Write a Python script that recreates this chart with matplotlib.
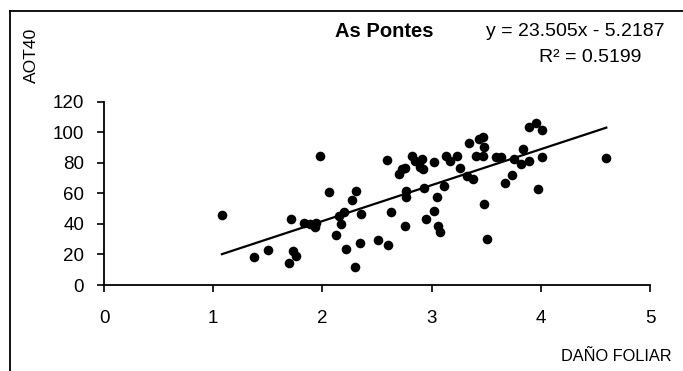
import matplotlib
matplotlib.use("Agg")
import matplotlib.pyplot as plt
from matplotlib.lines import Line2D
from matplotlib import font_manager
import numpy as np

plt.rcParams['font.family'] = ['Liberation Sans', 'DejaVu Sans']

# Foliar damage index vs AOT40 at As Pontes
dano_foliar = [1.08, 1.37, 1.50, 1.69, 1.71, 1.73, 1.76, 1.83, 1.89, 1.94,
               1.93, 1.98, 2.06, 2.12, 2.15, 2.17, 2.20, 2.22, 2.27, 2.31,
               2.30, 2.34, 2.35, 2.51, 2.60, 2.59, 2.63, 2.70, 2.73, 2.76,
               2.77, 2.77, 2.76, 2.82, 2.85, 2.89, 2.91, 2.92, 2.93, 2.95,
               3.02, 3.02, 3.05, 3.06, 3.08, 3.11, 3.13, 3.17, 3.23, 3.26,
               3.32, 3.38, 3.34, 3.43, 3.47, 3.48, 3.41, 3.47, 3.48, 3.51,
               3.59, 3.64, 3.67, 3.74, 3.75, 3.84, 3.82, 3.89, 3.89, 3.96,
               4.01, 4.01, 3.97, 4.60]
aot40 = [45.5, 18.1, 22.7, 14.7, 43.1, 22.4, 19.2, 40.8, 39.6, 40.5,
         38.1, 84.3, 61.1, 32.7, 45.3, 39.6, 47.9, 23.5, 55.9, 61.3,
         12.0, 27.4, 46.4, 29.2, 26.3, 81.8, 47.5, 72.5, 75.8, 76.7,
         61.3, 57.3, 38.4, 84.5, 81.2, 77.3, 82.4, 75.6, 63.2, 42.9,
         80.6, 48.6, 57.3, 38.8, 34.6, 64.5, 84.5, 81.2, 84.5, 76.4,
         71.4, 69.0, 92.8, 95.2, 96.5, 90.0, 84.1, 84.1, 52.9, 30.1,
         84.0, 83.5, 66.5, 71.9, 82.4, 88.9, 79.1, 81.2, 103.0, 105.7,
         101.5, 83.5, 62.7, 83.0]

# Linear trend reported on the chart
slope = 23.505
intercept = -5.2187
r2 = 0.5199

x_ticks = [0, 1, 2, 3, 4, 5]
y_ticks = [0, 20, 40, 60, 80, 100, 120]

# Axis titles use a narrow face when one is installed
installed = {f.name for f in font_manager.fontManager.ttflist}
if 'Liberation Sans Narrow' in installed:
    axis_family = ['Liberation Sans Narrow', 'Liberation Sans']
    axis_size = 13.5
    yaxis_size = 14
else:
    axis_family = ['Liberation Sans', 'DejaVu Sans']
    axis_size = 11.8
    yaxis_size = 12.6

fig = plt.figure(figsize=(6.83, 3.71), dpi=100)
ax = fig.add_axes([104 / 683, 86 / 371, 546 / 683, 183.5 / 371])

ax.scatter(dano_foliar, aot40, s=48, color='black', zorder=3, linewidths=0)

xs = np.array([min(dano_foliar), max(dano_foliar)])
ax.plot(xs, slope * xs + intercept, color='black', lw=1.6, zorder=2)

ax.set_xlim(0, 5)
ax.set_ylim(0, 120)
ax.set_xticks(x_ticks)
ax.set_yticks(y_ticks)
ax.tick_params(axis='both', direction='out', length=4.8, width=1.2,
               labelsize=13.5, color='black')
ax.tick_params(axis='x', pad=13)
ax.tick_params(axis='y', pad=9.5)
for side in ('top', 'right'):
    ax.spines[side].set_visible(False)
for side in ('left', 'bottom'):
    ax.spines[side].set_linewidth(1.3)

# Headings and regression text
fig.text(384 / 683, 1 - 31.5 / 371, 'As Pontes', fontsize=14.5, fontweight='bold',
         ha='center', va='center')
fig.text(575 / 683, 1 - 31 / 371, f'y = {slope}x - {abs(intercept)}', fontsize=14,
         ha='center', va='center')
fig.text(590 / 683, 1 - 57 / 371, f'R² = {r2}', fontsize=14,
         ha='center', va='center')

fig.text(31 / 683, 1 - 55.5 / 371, 'AOT40', fontsize=yaxis_size, rotation=90,
         ha='center', va='center', family=axis_family)
fig.text(616 / 683, 1 - 356.5 / 371, 'DAÑO FOLIAR', fontsize=axis_size,
         ha='center', va='center', family=axis_family)

# Outer frame on the left and top edges
fig.add_artist(Line2D([10 / 683, 10 / 683], [0, 1 - 11 / 371], color='black', lw=1.3))
fig.add_artist(Line2D([10 / 683, 1], [1 - 11 / 371, 1 - 11 / 371], color='black', lw=1.3))

fig.savefig('out.png', dpi=100)
